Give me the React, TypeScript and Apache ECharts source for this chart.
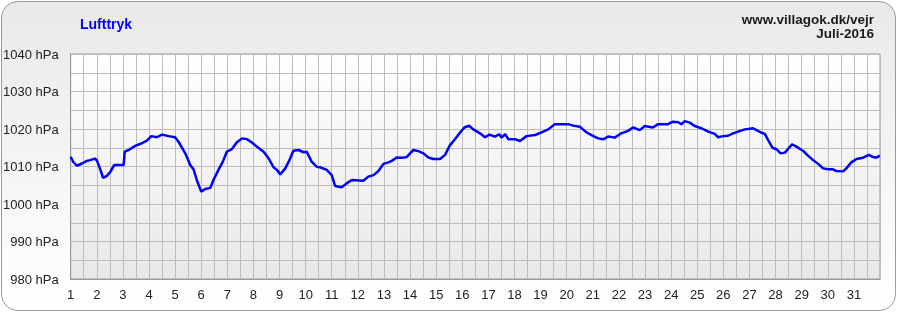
import React, { useEffect, useRef } from "react";
import * as echarts from "echarts";

// time in days (1 = start of 1 July), pressure in hPa
const days: number[] = [
  1.0, 1.1, 1.24, 1.43, 1.62, 1.75, 1.92, 2.0, 2.14, 2.24, 2.39, 2.52, 2.67, 3.03, 3.07, 3.22, 3.47, 3.73, 3.92,
  4.09, 4.3, 4.5, 4.75, 5.0, 5.13, 5.39, 5.58, 5.71, 5.83, 6.0, 6.15, 6.35, 6.47, 6.66, 6.83, 6.98, 7.17, 7.36,
  7.56, 7.75, 7.94, 8.13, 8.39, 8.58, 8.77, 8.9, 9.03, 9.22, 9.38, 9.53, 9.73, 9.92, 10.04, 10.23, 10.43, 10.55,
  10.81, 11.0, 11.13, 11.38, 11.57, 11.77, 12.21, 12.4, 12.6, 12.79, 12.98, 13.17, 13.3, 13.49, 13.68, 13.87,
  14.0, 14.13, 14.32, 14.51, 14.7, 14.89, 15.15, 15.34, 15.53, 15.72, 15.91, 16.08, 16.26, 16.42, 16.68, 16.87,
  17.04, 17.25, 17.42, 17.5, 17.64, 17.77, 18.02, 18.21, 18.46, 18.79, 19.1, 19.29, 19.55, 19.74, 20.06, 20.25,
  20.5, 20.76, 21.02, 21.21, 21.4, 21.59, 21.84, 22.09, 22.35, 22.54, 22.8, 22.99, 23.3, 23.5, 23.88, 24.07,
  24.27, 24.39, 24.52, 24.71, 24.9, 25.16, 25.42, 25.67, 25.8, 25.99, 26.18, 26.37, 26.56, 26.82, 26.95, 27.14,
  27.27, 27.46, 27.59, 27.71, 27.88, 28.04, 28.19, 28.36, 28.49, 28.63, 28.8, 28.95, 29.05, 29.24, 29.44, 29.63,
  29.82, 30.01, 30.17, 30.33, 30.59, 30.71, 30.9, 31.1, 31.35, 31.58, 31.7, 31.86, 31.99,
];

const pressure: number[] = [
  1012.6, 1011.2, 1010.2, 1010.8, 1011.5, 1011.7, 1012.1, 1011.7, 1009.1, 1007.0, 1007.5, 1008.6, 1010.4, 1010.4,
  1013.95, 1014.4, 1015.5, 1016.2, 1016.9, 1018.1, 1017.8, 1018.5, 1018.1, 1017.8, 1016.6, 1013.5, 1010.4, 1009.2,
  1006.4, 1003.3, 1004.0, 1004.3, 1006.4, 1009.1, 1011.3, 1013.95, 1014.6, 1016.4, 1017.5, 1017.3, 1016.4, 1015.3,
  1013.95, 1012.2, 1009.8, 1009.1, 1007.9, 1009.5, 1011.7, 1014.2, 1014.4, 1013.8, 1013.95, 1011.3, 1009.9, 1009.8,
  1009.1, 1007.7, 1004.8, 1004.45, 1005.5, 1006.4, 1006.2, 1007.3, 1007.7, 1008.8, 1010.7, 1011.1, 1011.5, 1012.4,
  1012.35, 1012.5, 1013.5, 1014.4, 1014.1, 1013.5, 1012.4, 1012.0, 1012.0, 1013.1, 1015.7, 1017.25, 1019.0, 1020.4,
  1020.9, 1019.9, 1018.85, 1017.8, 1018.5, 1017.95, 1018.6, 1017.7, 1018.6, 1017.25, 1017.3, 1016.8, 1018.1, 1018.4,
  1019.3, 1019.9, 1021.3, 1021.3, 1021.3, 1020.9, 1020.6, 1019.1, 1018.1, 1017.5, 1017.25, 1018.0, 1017.7, 1018.85,
  1019.5, 1020.4, 1019.7, 1020.8, 1020.4, 1021.3, 1021.3, 1021.95, 1021.8, 1021.25, 1022.1, 1021.7, 1020.8, 1020.2,
  1019.3, 1018.7, 1017.8, 1018.1, 1018.2, 1018.85, 1019.3, 1019.9, 1020.0, 1020.2, 1019.7, 1019.0, 1018.7, 1017.1,
  1015.0, 1014.6, 1013.5, 1013.7, 1014.8, 1015.9, 1015.3, 1014.6, 1014.2, 1012.9, 1011.7, 1010.7, 1009.5, 1009.25,
  1009.3, 1008.8, 1008.7, 1009.5, 1011.1, 1012.0, 1012.35, 1013.1, 1012.6, 1012.35, 1012.9,
];

const titleText = "Lufttryk";
const siteText = "www.villagok.dk/vejr";
const monthText = "Juli-2016";
const yMin = 980;
const yMax = 1040;
const yStep = 10;
const xMin = 1;
const xMax = 32;

const FONT = "'Liberation Sans', Arial, sans-serif";

export default function App() {
  const ref = useRef<HTMLDivElement>(null);
  useEffect(() => {
    if (!ref.current) return;
    const chart = echarts.init(ref.current, null, { renderer: "svg" });
    const data = days.map((d, i) => [d, pressure[i]]);
    chart.setOption({
      animation: false,
      graphic: [
        {
          type: "rect",
          z: -10,
          silent: true,
          shape: { x: 1.5, y: 1.5, width: 894, height: 309, r: 16 },
          style: {
            fill: new echarts.graphic.LinearGradient(0, 0, 0, 1, [
              { offset: 0, color: "#e9e9e9" },
              { offset: 1, color: "#ffffff" },
            ]),
            stroke: "#9a9a9a",
            lineWidth: 1,
          },
        },
        {
          type: "text",
          left: 80,
          top: 17,
          style: { text: titleText, fill: "#0000ff", font: `bold 14px ${FONT}` },
        },
        {
          type: "text",
          right: 23,
          top: 12,
          style: { text: siteText, fill: "#1a1a1a", font: `bold 13.5px ${FONT}`, textAlign: "right" },
        },
        {
          type: "text",
          right: 23,
          top: 26,
          style: { text: monthText, fill: "#1a1a1a", font: `bold 13.5px ${FONT}`, textAlign: "right" },
        },
      ],
      grid: {
        left: 70,
        top: 54,
        right: 17,
        bottom: 33,
        show: true,
        borderColor: "#999",
        borderWidth: 1,
        backgroundColor: new echarts.graphic.LinearGradient(0, 0, 0, 1, [
          { offset: 0, color: "#ffffff" },
          { offset: 1, color: "#e8e8e8" },
        ]),
      },
      xAxis: {
        type: "value",
        min: xMin,
        max: xMax,
        interval: 1,
        axisLine: { show: true, lineStyle: { color: "#999" } },
        axisTick: { show: false },
        minorTick: { show: false, splitNumber: 2 },
        splitLine: { show: true, lineStyle: { color: "#bdbdbd", width: 1 } },
        minorSplitLine: { show: true, lineStyle: { color: "#bdbdbd", width: 1 } },
        axisLabel: {
          color: "#222",
          fontSize: 13,
          fontFamily: FONT,
          margin: 9,
          formatter: (v: number) => (v >= xMax ? "" : String(v)),
        },
      },
      yAxis: {
        type: "value",
        min: yMin,
        max: yMax,
        interval: yStep,
        axisLine: { show: true, lineStyle: { color: "#999" } },
        axisTick: { show: false },
        minorTick: { show: false, splitNumber: 2 },
        splitLine: { show: true, lineStyle: { color: "#bdbdbd", width: 1 } },
        minorSplitLine: { show: true, lineStyle: { color: "#bdbdbd", width: 1 } },
        axisLabel: {
          color: "#222",
          fontSize: 13,
          fontFamily: FONT,
          margin: 12,
          formatter: (v: number) => `${v} hPa`,
        },
      },
      series: [
        {
          type: "line",
          data,
          showSymbol: false,
          symbol: "none",
          lineStyle: { color: "#0000ff", width: 2.5 },
          z: 5,
        },
      ],
    });
    return () => chart.dispose();
  }, []);
  return (
    <div
      ref={ref}
      style={{ position: "fixed", left: 0, top: 0, width: 897, height: 312 }}
    />
  );
}
